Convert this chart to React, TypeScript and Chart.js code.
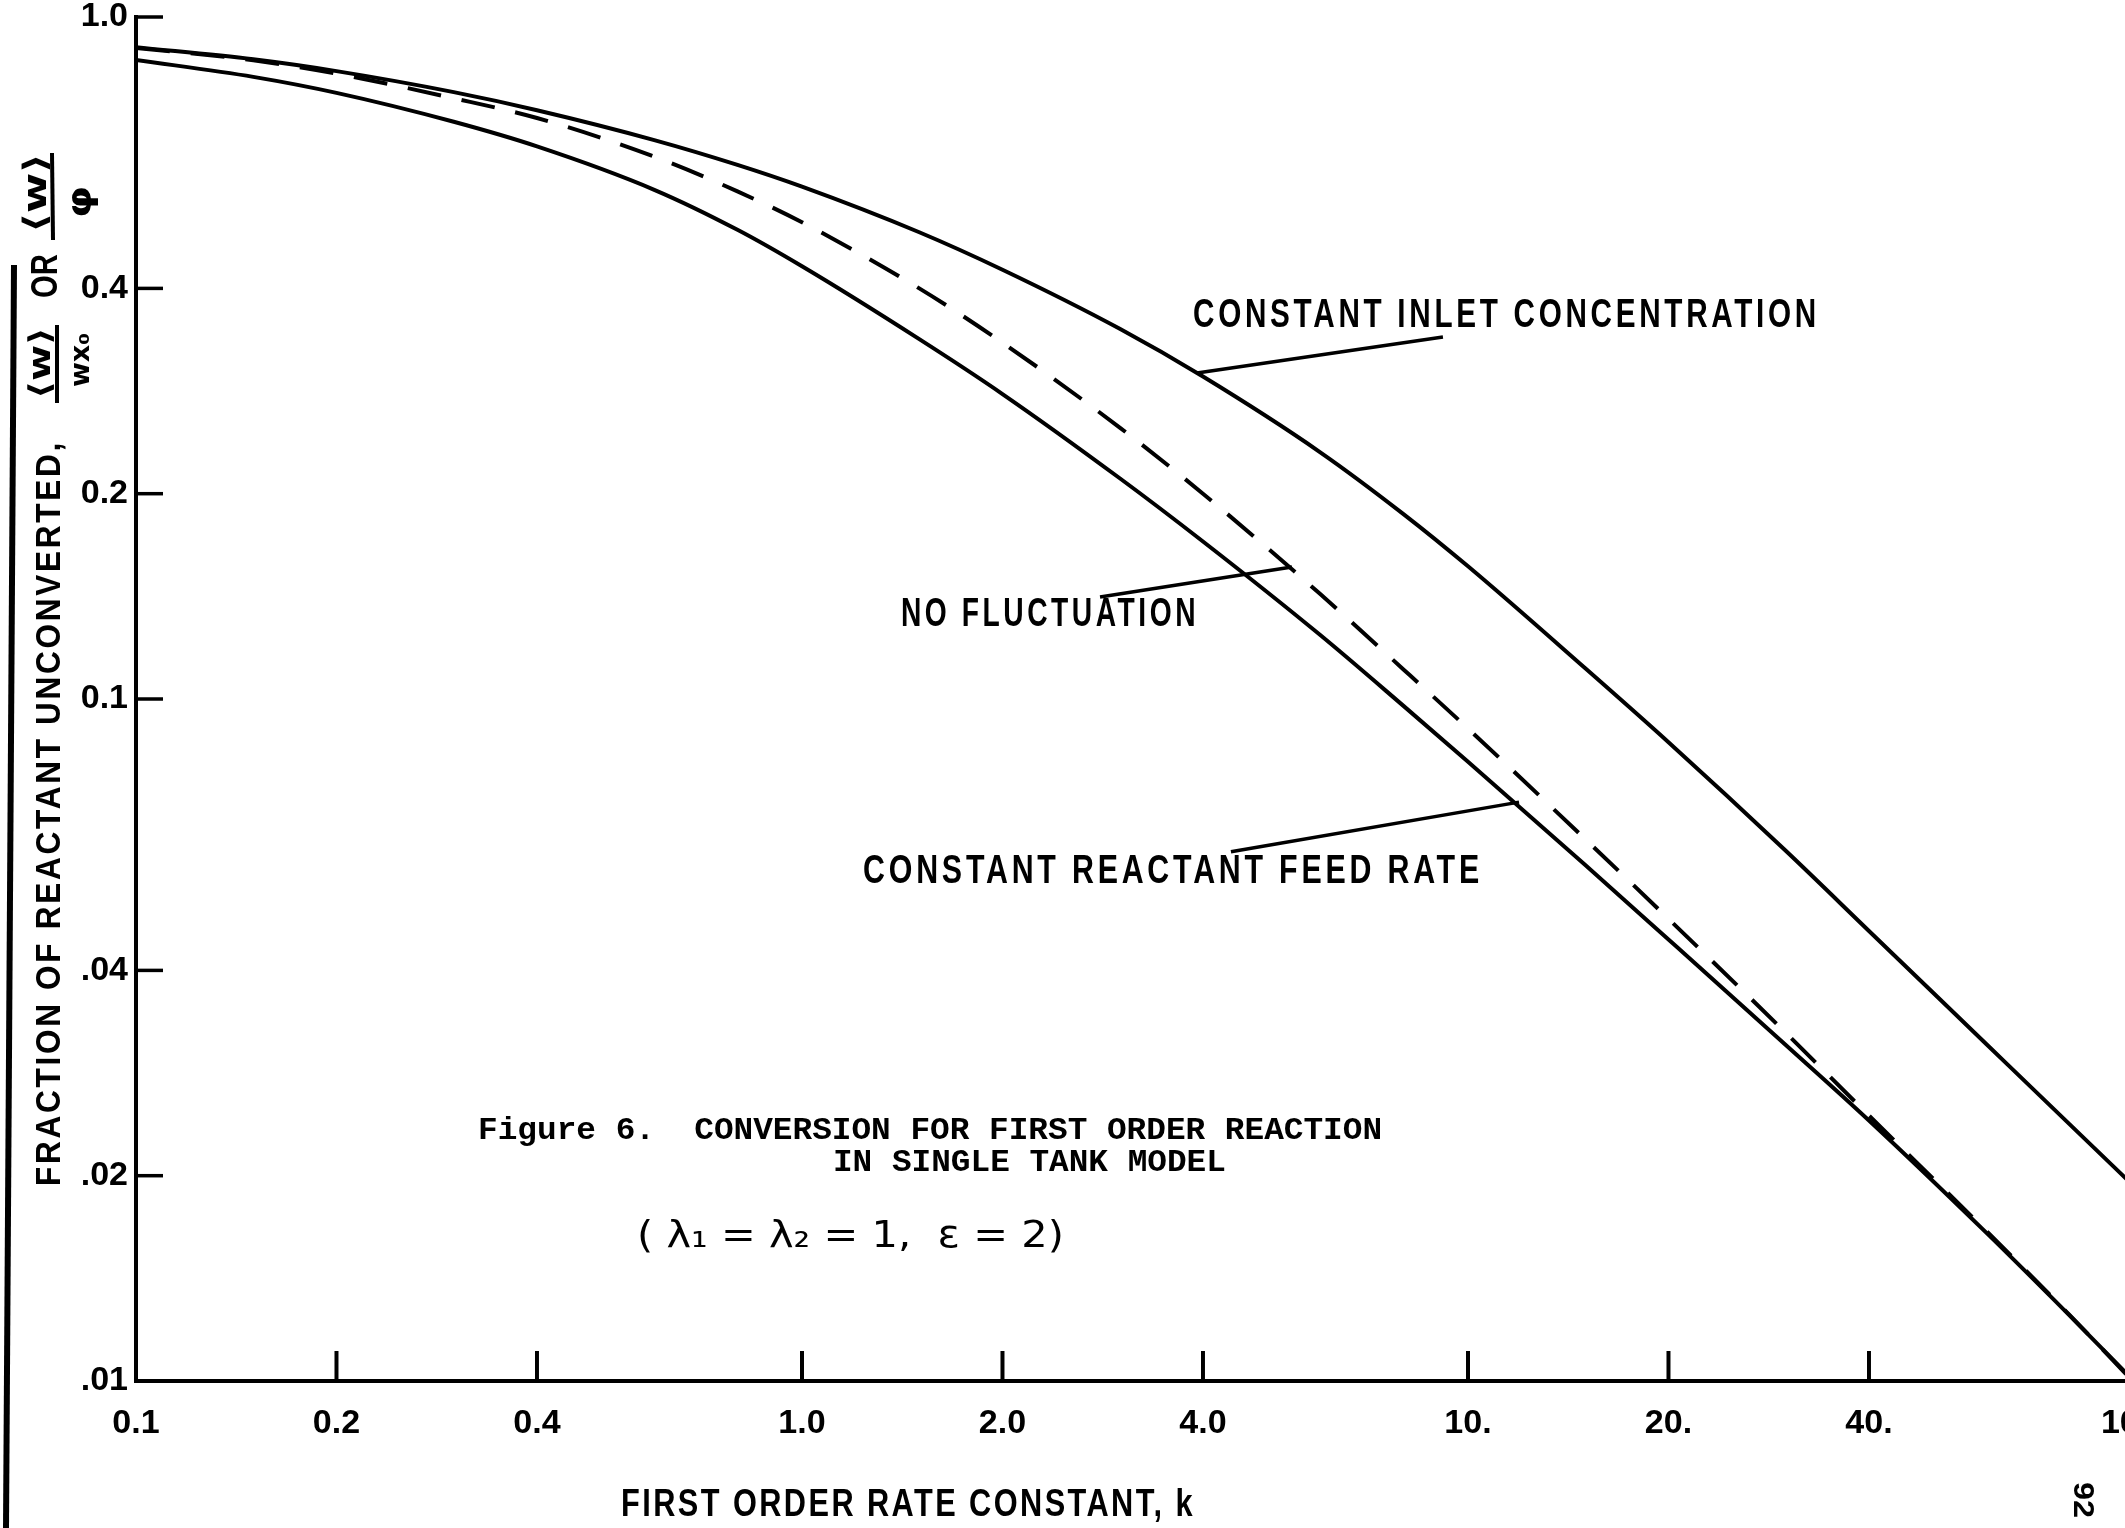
import React, { useEffect, useRef } from 'react';
import { Chart, registerables } from 'chart.js';

Chart.register(...registerables);

// ---- data (first order rate constant k vs fraction unconverted) ----
const kValues = [0.1, 0.15, 0.2, 0.3, 0.4, 0.6, 0.8, 1, 1.5, 2, 3, 4, 6, 8, 10, 15, 20, 30, 40, 60, 80, 100];
const inletConcentration = [0.903, 0.867, 0.833, 0.776, 0.730, 0.660, 0.607, 0.564, 0.4835, 0.426, 0.349, 0.297, 0.230, 0.1867, 0.1565, 0.1109, 0.0864, 0.0599, 0.0457, 0.0312, 0.0238, 0.0193];
const noFluctuation = [0.901, 0.864, 0.826, 0.760, 0.711, 0.624, 0.555, 0.500, 0.400, 0.333, 0.250, 0.200, 0.1425, 0.1105, 0.0905, 0.0623, 0.0476, 0.0324, 0.0245, 0.0166, 0.0125, 0.00995];
const reactantFeedRate = [0.865, 0.817, 0.774, 0.702, 0.646, 0.558, 0.4875, 0.431, 0.337, 0.280, 0.2107, 0.1702, 0.1241, 0.0977, 0.0809, 0.0571, 0.0444, 0.0311, 0.0241, 0.0165, 0.01248, 0.0100];

const xTickValues = [0.1, 0.2, 0.4, 1, 2, 4, 10, 20, 40, 100];
const xTickLabels = ['0.1', '0.2', '0.4', '1.0', '2.0', '4.0', '10.', '20.', '40.', '100.'];
const yTickValues = [0.01, 0.02, 0.04, 0.1, 0.2, 0.4, 1];
const yTickLabels = ['.01', '.02', '.04', '0.1', '0.2', '0.4', '1.0'];

// annotation texts anchored in data coordinates (k range, value)
const curveLabels = [
  { text: 'CONSTANT INLET CONCENTRATION', from: 3.865, to: 33.77, at: 0.3644 },
  { text: 'NO FLUCTUATION', from: 1.408, to: 3.946, at: 0.1328 },
  { text: 'CONSTANT REACTANT FEED RATE', from: 1.235, to: 10.53, at: 0.0558 },
];
const leaderLines = [
  [3.918, 0.3006, 9.17, 0.3395],
  [2.802, 0.1411, 5.441, 0.1562],
  [4.406, 0.0597, 11.93, 0.0706],
];
const captionLines = [
  { text: 'Figure 6.  CONVERSION FOR FIRST ORDER REACTION', from: 0.3263, to: 7.43, at: 0.02326 },
  { text: 'IN SINGLE TANK MODEL', from: 1.113, to: 4.33, at: 0.02088 },
];
const paramLine = { text: '( λ₁ = λ₂ = 1,  ε = 2)', from: 0.5654, to: 2.474, at: 0.01626 };

const PAGE_W = 2125;
const PAGE_H = 1528;
const CANVAS_W = 2200;
const PLOT_LEFT = 136;
const PLOT_TOP = 17;
const PLOT_RIGHT = 2134;
const PLOT_BOTTOM = 1381;
const SANS = '"Liberation Sans", Arial, sans-serif';
const MONO = '"Liberation Mono", "DejaVu Sans Mono", monospace';
const DEJAVU = '"DejaVu Sans", sans-serif';

function fitText(ctx: any, text: string, cx: number, cy: number, width: number, font: string, rot = 0, spacing = 0) {
  ctx.save();
  ctx.font = font;
  ctx.textAlign = 'center';
  ctx.textBaseline = 'middle';
  if (spacing && 'letterSpacing' in ctx) ctx.letterSpacing = `${spacing}px`;
  const w = ctx.measureText(text).width || 1;
  ctx.translate(cx, cy);
  if (rot) ctx.rotate(rot);
  ctx.scale(width / w, 1);
  ctx.fillText(text, 0, 0);
  ctx.restore();
}

function seg(ctx: CanvasRenderingContext2D, x1: number, y1: number, x2: number, y2: number, w: number) {
  ctx.lineWidth = w;
  ctx.beginPath();
  ctx.moveTo(x1, y1);
  ctx.lineTo(x2, y2);
  ctx.stroke();
}

const zeroPadding = (s: any) => {
  s.paddingTop = 0;
  s.paddingBottom = 0;
  s.paddingLeft = 0;
  s.paddingRight = 0;
};

const decorPlugin = {
  id: 'decor',
  afterDraw(chart: any) {
    const { ctx, chartArea } = chart;
    const xs = chart.scales.x;
    const ys = chart.scales.y;
    const px = (v: number) => xs.getPixelForValue(v);
    const py = (v: number) => ys.getPixelForValue(v);
    ctx.save();
    ctx.strokeStyle = '#000';
    ctx.fillStyle = '#000';
    ctx.lineCap = 'butt';

    // inward tick marks
    xTickValues.forEach((v) => {
      if (v <= 0.1 || v >= 100) return;
      const x = px(v);
      seg(ctx, x, chartArea.bottom, x, chartArea.bottom - 30, 4);
    });
    yTickValues.forEach((v) => {
      if (v <= 0.01) return;
      const y = py(v);
      seg(ctx, chartArea.left, y, chartArea.left + 27, y, 3.5);
    });

    // leader lines
    leaderLines.forEach(([k1, v1, k2, v2]) => seg(ctx, px(k1), py(v1), px(k2), py(v2), 3.5));

    // curve labels
    curveLabels.forEach((l) => {
      const x0 = px(l.from), x1 = px(l.to);
      fitText(ctx, l.text, (x0 + x1) / 2, py(l.at), x1 - x0, `bold 40px ${SANS}`, 0, 5);
    });
    captionLines.forEach((l) => {
      const x0 = px(l.from), x1 = px(l.to);
      fitText(ctx, l.text, (x0 + x1) / 2, py(l.at), x1 - x0, `bold 32px ${MONO}`);
    });
    {
      const x0 = px(paramLine.from), x1 = px(paramLine.to);
      fitText(ctx, paramLine.text, (x0 + x1) / 2, py(paramLine.at), x1 - x0, `38px ${DEJAVU}`);
    }

    // x axis title
    fitText(ctx, 'FIRST ORDER RATE CONSTANT, k', 908, 1506, 574, `bold 38px ${SANS}`, 0, 3);

    // y axis title (rotated)
    const R = -Math.PI / 2;
    fitText(ctx, 'FRACTION OF REACTANT UNCONVERTED,', 50, 813, 746, `bold 35px ${SANS}`, R, 3);
    fitText(ctx, '⟨w⟩', 42, 363, 72, `bold 30px ${DEJAVU}`, R);
    seg(ctx, 57, 325, 57, 403, 4);
    fitText(ctx, 'wx₀', 82, 360, 54, `bold 26px ${DEJAVU}`, R);
    fitText(ctx, 'OR', 47, 276, 44, `bold 36px ${SANS}`, R);
    fitText(ctx, '⟨w⟩', 38, 193, 80, `bold 32px ${DEJAVU}`, R);
    seg(ctx, 52, 153, 53, 240, 4);
    fitText(ctx, 'φ', 82, 202, 32, `bold 34px ${DEJAVU}`, R);

    // page number and scan edge
    fitText(ctx, '92', 2082, 1500, 36, `bold 30px ${SANS}`, Math.PI / 2);
    seg(ctx, 14, 265, 6, PAGE_H, 6);

    ctx.restore();
  },
};

const toPoints = (vals: number[]) => kValues.map((k, i) => ({ x: k, y: vals[i] }));

export default function App() {
  const canvasRef = useRef<HTMLCanvasElement | null>(null);

  useEffect(() => {
    const canvas = canvasRef.current;
    if (!canvas) return;
    const common = {
      showLine: true,
      borderColor: '#000',
      backgroundColor: '#000',
      borderWidth: 4,
      pointRadius: 0,
      fill: false,
      cubicInterpolationMode: 'monotone' as const,
    };
    const chart = new Chart(canvas, {
      type: 'scatter',
      data: {
        datasets: [
          { ...common, label: 'CONSTANT INLET CONCENTRATION', data: toPoints(inletConcentration) },
          { ...common, label: 'NO FLUCTUATION', data: toPoints(noFluctuation), borderDash: [34, 21] },
          { ...common, label: 'CONSTANT REACTANT FEED RATE', data: toPoints(reactantFeedRate) },
        ],
      },
      options: {
        animation: false,
        responsive: false,
        devicePixelRatio: 1,
        events: [],
        layout: { padding: { top: PLOT_TOP, right: CANVAS_W - PLOT_RIGHT, bottom: 0, left: 0 } },
        plugins: { legend: { display: false }, tooltip: { enabled: false }, title: { display: false } },
        scales: {
          x: {
            type: 'logarithmic',
            position: 'bottom',
            min: 0.1,
            max: 100,
            afterBuildTicks: (s: any) => { s.ticks = xTickValues.map((v) => ({ value: v })); },
            afterFit: (s: any) => { s.height = PAGE_H - PLOT_BOTTOM; zeroPadding(s); },
            grid: { display: false, drawTicks: false },
            border: { display: true, color: '#000', width: 4 },
            ticks: {
              autoSkip: false,
              maxRotation: 0,
              minRotation: 0,
              padding: 26,
              color: '#000',
              font: { family: SANS, size: 34, weight: 'bold', lineHeight: 1 },
              callback: (_v: any, i: number) => xTickLabels[i],
            },
          },
          y: {
            type: 'logarithmic',
            position: 'left',
            min: 0.01,
            max: 1,
            afterBuildTicks: (s: any) => { s.ticks = yTickValues.map((v) => ({ value: v })); },
            afterFit: (s: any) => { s.width = PLOT_LEFT; zeroPadding(s); },
            grid: { display: false, drawTicks: false },
            border: { display: true, color: '#000', width: 4 },
            ticks: {
              autoSkip: false,
              padding: 8,
              color: '#000',
              font: { family: SANS, size: 34, weight: 'bold', lineHeight: 1 },
              callback: (_v: any, i: number) => yTickLabels[i],
            },
          },
        },
      } as any,
      plugins: [decorPlugin],
    });
    return () => chart.destroy();
  }, []);

  return (
    <div style={{ position: 'absolute', left: 0, top: 0, width: PAGE_W, height: PAGE_H, overflow: 'hidden', background: '#fff' }}>
      <canvas ref={canvasRef} width={CANVAS_W} height={PAGE_H} style={{ display: 'block', width: CANVAS_W, height: PAGE_H }} />
    </div>
  );
}
